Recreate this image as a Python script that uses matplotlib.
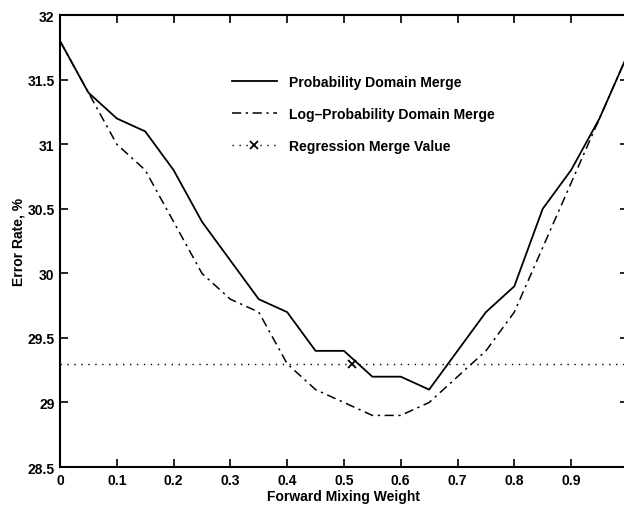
import matplotlib
matplotlib.use('Agg')
import matplotlib.pyplot as plt

plt.rcParams['font.family'] = ['Liberation Sans', 'DejaVu Sans']
plt.rcParams['font.weight'] = 'bold'

# 資料
weights = [0.0, 0.05, 0.1, 0.15, 0.2, 0.25, 0.3, 0.35, 0.4, 0.45, 0.5,
           0.55, 0.6, 0.65, 0.7, 0.75, 0.8, 0.85, 0.9, 0.95, 1.0]
prob_merge = [31.8, 31.4, 31.2, 31.1, 30.8, 30.4, 30.1, 29.8, 29.7, 29.4, 29.4,
              29.2, 29.2, 29.1, 29.4, 29.7, 29.9, 30.5, 30.8, 31.2, 31.7]
logprob_merge = [31.8, 31.4, 31.0, 30.8, 30.4, 30.0, 29.8, 29.7, 29.3, 29.1, 29.0,
                 28.9, 28.9, 29.0, 29.2, 29.4, 29.7, 30.2, 30.7, 31.2, 31.7]
regression_value = 29.3
regression_weight = 0.515

xticks = [0, 0.1, 0.2, 0.3, 0.4, 0.5, 0.6, 0.7, 0.8, 0.9]
xtick_labels = ['0', '0.1', '0.2', '0.3', '0.4', '0.5', '0.6', '0.7', '0.8', '0.9']
yticks = [28.5, 29, 29.5, 30, 30.5, 31, 31.5, 32]
ytick_labels = ['28.5', '29', '29.5', '30', '30.5', '31', '31.5', '32']

fig = plt.figure(figsize=(6.24, 5.06), dpi=100)
# 右側邊框落在圖片外（原圖被裁切）
ax = fig.add_axes([0.0962, 0.075, 0.910, 0.893])

ax.plot(weights, prob_merge, '-', color='black', lw=1.3, label='Probability Domain Merge')
ax.plot(weights, logprob_merge, color='black', lw=1.1, dashes=(6, 3, 1.5, 3),
        label='Log\u2013Probability Domain Merge')
ax.axhline(regression_value, color='black', lw=1.0, dashes=(1, 4))
ax.plot([regression_weight], [regression_value], color='black', lw=1.0, dashes=(1, 4),
        marker='x', ms=6, mew=1.3, label='Regression Merge Value')

ax.set_xlim(0, 1)
ax.set_ylim(28.5, 32)
ax.set_xticks(xticks)
ax.set_xticklabels(xtick_labels)
ax.set_yticks(yticks)
ax.set_yticklabels(ytick_labels)
ax.tick_params(direction='in', top=True, right=True, length=6, width=1.2,
               labelsize=10, pad=4)
for s in ax.spines.values():
    s.set_linewidth(1.5)

ax.set_xlabel('Forward Mixing Weight', fontsize=10, fontweight='bold', labelpad=2)
ax.set_ylabel('Error Rate, %', fontsize=10, fontweight='bold', labelpad=1)

leg = ax.legend(loc='upper left', bbox_to_anchor=(0.28, 0.895), frameon=False,
                fontsize=10.1, handlelength=3.2, labelspacing=1.28, handletextpad=0.9)
for t in leg.get_texts():
    t.set_fontweight('bold')

fig.savefig('out.png', dpi=100)
